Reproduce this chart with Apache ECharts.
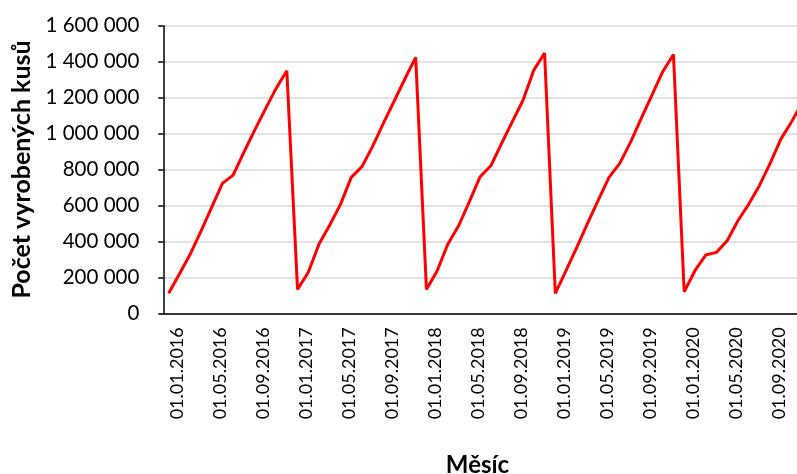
<!DOCTYPE html>
<html>
<head>
<meta charset="utf-8">
<script src="https://cdn.jsdelivr.net/npm/echarts@6/dist/echarts.min.js"></script>
<style>html,body{margin:0;padding:0;background:#fff}#c{width:797px;height:474px}</style>
</head>
<body>
<div id="c"></div>
<script>
const years = [2016, 2017, 2018, 2019, 2020];
const months = ['01','02','03','04','05','06','07','08','09','10','11','12'];
const categories = [];
years.forEach(y => months.forEach(m => categories.push('01.' + m + '.' + y)));

const values2016 = [111000, 219000, 328000, 456000, 589000, 723000, 769000, 895000, 1018000, 1136000, 1251000, 1349000];
const values2017 = [133000, 228000, 386000, 491000, 606000, 756000, 816000, 930000, 1058000, 1181000, 1305000, 1424000];
const values2018 = [133000, 237000, 386000, 487000, 621000, 760000, 821000, 945000, 1066000, 1186000, 1353000, 1448000];
const values2019 = [111000, 237000, 367000, 500000, 630000, 756000, 834000, 951000, 1084000, 1214000, 1344000, 1440000];
const values2020 = [120000, 237000, 324000, 339000, 404000, 515000, 606000, 710000, 834000, 969000, 1066000, 1173000];
const values = [].concat(values2016, values2017, values2018, values2019, values2020);

const yTicks = [0, 200000, 400000, 600000, 800000, 1000000, 1200000, 1400000, 1600000];

const fmt = v => String(v).replace(/\B(?=(\d{3})+(?!\d))/g, ' ');
const FONT = 'Lato';

const chart = echarts.init(document.getElementById('c'), null, {renderer: 'canvas'});
chart.setOption({
  animation: false,
  backgroundColor: '#ffffff',
  grid: {left: 163.3, top: 25.7, height: 287.6, width: 644.4, outerBoundsMode: 'none', containLabel: false},
  xAxis: {
    type: 'category',
    data: categories,
    boundaryGap: true,
    name: 'Měsíc',
    nameLocation: 'middle',
    nameGap: 140,
    nameTextStyle: {fontFamily: FONT, fontSize: 24, fontWeight: 'bold', color: '#000', padding: [0, 16, 0, 0]},
    axisLine: {lineStyle: {color: '#000', width: 1.5}},
    axisTick: {interval: 3, length: 5, lineStyle: {color: '#000', width: 1.5}},
    axisLabel: {interval: 3, rotate: 90, margin: 14, verticalAlign: 'top', fontFamily: FONT, fontSize: 18, color: '#000'},
    splitLine: {show: false}
  },
  yAxis: {
    type: 'value',
    min: yTicks[0],
    max: yTicks[yTicks.length - 1],
    interval: 200000,
    name: 'Počet vyrobených kusů',
    nameLocation: 'middle',
    nameGap: 122,
    nameRotate: 90,
    nameTextStyle: {fontFamily: FONT, fontSize: 25, fontWeight: 'bold', color: '#000'},
    axisLine: {show: true, lineStyle: {color: '#000', width: 1.5}},
    axisTick: {show: true, length: 5, lineStyle: {color: '#000', width: 1.5}},
    axisLabel: {margin: 24, fontFamily: FONT, fontSize: 20.5, color: '#000', formatter: v => fmt(v)},
    splitLine: {show: true, lineStyle: {color: '#d9d9d9', width: 1.5}}
  },
  series: [{
    type: 'line',
    data: values,
    symbol: 'none',
    smooth: false,
    clip: true,
    lineStyle: {color: '#ff0000', width: 3}
  }]
});
</script>
</body>
</html>
